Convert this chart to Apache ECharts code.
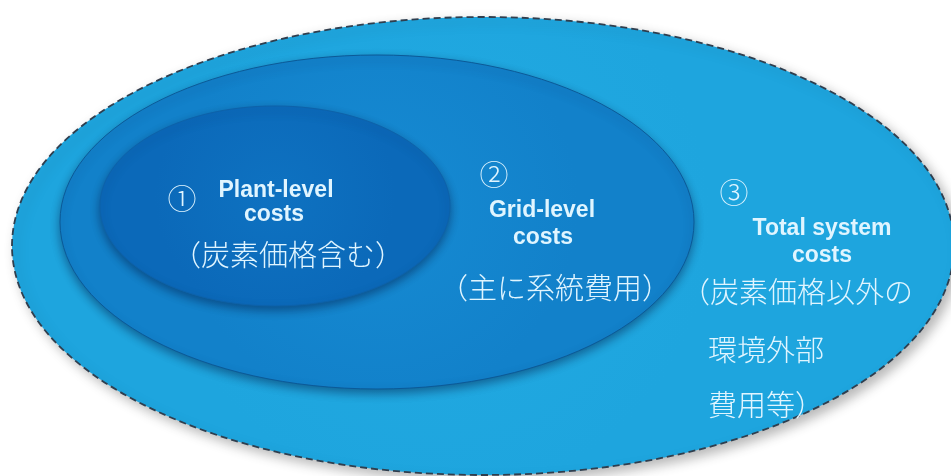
<!DOCTYPE html>
<html>
<head>
<meta charset="utf-8">
<script src="https://cdn.jsdelivr.net/npm/echarts@6/dist/echarts.min.js"></script>
<style>
html,body{margin:0;padding:0;background:#fff;}
#chart{width:951px;height:476px;}
</style>
</head>
<body>
<div id="chart"></div>
<script>
// Nested cost scopes (outer -> inner), in diagram units
const scopeNames = ['Total system costs', 'Grid-level costs', 'Plant-level costs'];
const scopeCenterX = [483, 377, 275];
const scopeCenterY = [246, 222, 206];
const scopeRadiusX = [471, 317, 175];
const scopeRadiusY = [229, 167, 100];

// Text lines
const labelTexts = [
  '①', 'Plant-level', 'costs', '（炭素価格含む）',
  '②', 'Grid-level', 'costs', '（主に系統費用）',
  '③', 'Total system', 'costs', '（炭素価格以外の', '環境外部', '費用等）'
];
const labelKinds = ['num', 'en', 'en', 'ja', 'num', 'en', 'en', 'ja', 'num', 'en', 'en', 'ja', 'ja', 'ja'];

// Layout (anchor positions for the text lines)
const labelX = [182, 276, 274, 288, 494, 542, 543, 555, 734, 822, 822, 681, 708, 708];
const labelY = [199, 191, 215, 255, 175, 211, 238, 288, 193, 229, 256, 292, 350, 405];
const labelAlign = ['center','center','center','center','center','center','center','center','center','center','center','left','left','left'];

const fills = [
  {type:'radial', x:0.45, y:0.45, r:0.6, colorStops:[{offset:0,color:'#22AAE2'},{offset:1,color:'#1EA5DE'}]},
  {type:'radial', x:0.5, y:0.45, r:0.6, colorStops:[{offset:0,color:'#168BD3'},{offset:1,color:'#1281CA'}]},
  {type:'radial', x:0.5, y:0.45, r:0.6, colorStops:[{offset:0,color:'#0E72C1'},{offset:1,color:'#0B69B9'}]}
];
const strokes = ['#2F3E4E', '#0B5A98', '#0D62AA'];

const chart = echarts.init(document.getElementById('chart'), null, {renderer:'canvas'});

const scopeData = scopeNames.map((n, i) => ({name:n, value:[scopeCenterX[i], scopeCenterY[i], scopeRadiusX[i], scopeRadiusY[i]]}));
const labelData = labelTexts.map((t, i) => ({name:t, value:[labelX[i], labelY[i]]}));

chart.setOption({
  animation:false,
  backgroundColor:'#ffffff',
  grid:{left:0, right:0, top:0, bottom:0},
  xAxis:{type:'value', min:0, max:951, show:false},
  yAxis:{type:'value', min:0, max:476, inverse:true, show:false},
  series:[
    {
      type:'custom',
      coordinateSystem:'cartesian2d',
      data:scopeData,
      z:1,
      renderItem:function(params, api){
        const i = params.dataIndex;
        const c = api.coord([api.value(0), api.value(1)]);
        const s = api.size([api.value(2), api.value(3)]);
        const outer = i === 0;
        return {
          type:'ellipse',
          shape:{cx:c[0], cy:c[1], rx:s[0], ry:s[1]},
          style:{
            fill:fills[i],
            stroke:strokes[i],
            lineWidth: outer ? 1.8 : 1,
            lineDash: outer ? [7,4] : null,
            shadowColor: outer ? 'rgba(0,0,0,0.28)' : 'rgba(0,20,60,0.45)',
            shadowBlur: outer ? 12 : 10,
            shadowOffsetX: outer ? 5 : 0,
            shadowOffsetY: outer ? 5 : 4
          }
        };
      }
    },
    {
      type:'custom',
      coordinateSystem:'cartesian2d',
      data:labelData,
      z:5,
      renderItem:function(params, api){
        const i = params.dataIndex;
        const c = api.coord([api.value(0), api.value(1)]);
        const kind = labelKinds[i];
        let font;
        if (kind === 'en') font = 'bold 23px "Liberation Sans", Arial, sans-serif';
        else if (kind === 'num') font = '300 29px "Noto Sans CJK JP", sans-serif';
        else font = '300 29px "Noto Sans CJK JP", sans-serif';
        return {
          type:'text',
          x:c[0], y:c[1],
          style:{
            text:labelTexts[i],
            font:font,
            fill:'#E0F5FF',
            align:labelAlign[i],
            verticalAlign:'middle'
          }
        };
      }
    }
  ]
});
</script>
</body>
</html>
